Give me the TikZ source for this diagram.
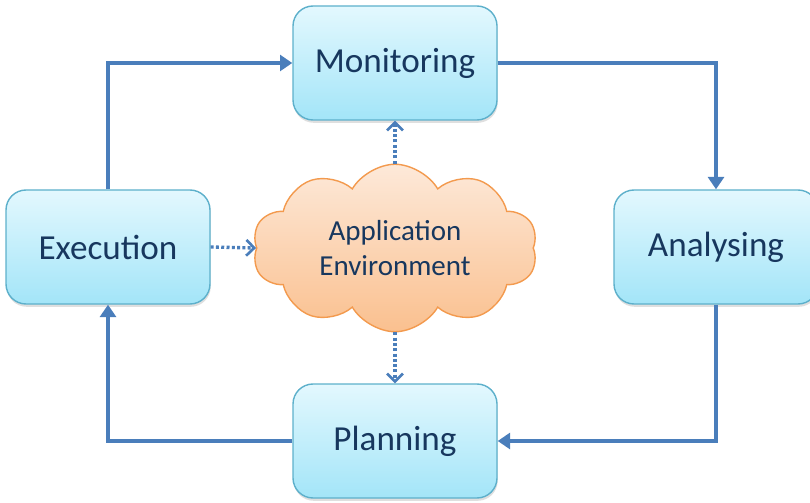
\documentclass[tikz,border=0pt]{standalone}
\usepackage{fontspec}
\setmainfont{Carlito}
\usetikzlibrary{shapes.symbols,arrows.meta,shadows}
\definecolor{flowblue}{HTML}{4A7EBB}
\definecolor{boxline}{HTML}{5DB0CB}
\definecolor{boxtop}{HTML}{E3F8FE}
\definecolor{boxbot}{HTML}{A3E5F8}
\definecolor{cloudline}{HTML}{F39A4E}
\definecolor{cloudtop}{HTML}{FDE9D9}
\definecolor{cloudbot}{HTML}{FAC08F}
\definecolor{txt}{HTML}{17375E}
\tikzset{
  phase/.style={draw=boxline, line width=0.8pt, rounded corners=0.4cm,
    top color=boxtop, bottom color=boxbot, minimum width=4.08cm,
    minimum height=2.28cm, text=txt, font=\fontsize{20}{24}\selectfont,
    drop shadow={shadow xshift=0.4pt, shadow yshift=-1.6pt, opacity=0.25}},
  env/.style={cloud, cloud puffs=10, cloud puff arc=120, aspect=1.7,
    draw=cloudline, line width=0.8pt, top color=cloudtop, bottom color=cloudbot,
    minimum width=5.7cm, minimum height=3.35cm, inner sep=0pt, text=txt,
    align=center, font=\fontsize{16.5}{20}\selectfont},
  flow/.style={draw=flowblue, line width=2pt,
    -{Triangle[length=7pt, width=9pt]}},
  touch/.style={draw=flowblue, line width=1.9pt, dash pattern=on 1.7pt off 1.3pt,
    -{Straight Barb[length=4.5pt, width=9pt, line width=1.5pt]}}
}
\begin{document}
\begin{tikzpicture}
\useasboundingbox (0,0) rectangle (16.2,10.04);
\node[phase] (mon) at (7.9,8.78) {Monitoring};
\node[phase] (exe) at (2.16,5.1) {Execution};
\node[phase] (ana) at (14.32,5.1) {Analysing};
\node[phase] (pla) at (7.9,1.22) {Planning};
\node[env] (app) at (7.9,5.08) {Application\\Environment};
\path[flow] (mon.east) -| (ana.north);
\path[flow] (ana.south) |- (pla.east);
\path[flow] (pla.west) -| (exe.south);
\path[flow] (exe.north) |- (mon.west);
\path[touch] (app.north) -- (mon.south);
\path[touch] (app.south) -- (pla.north);
\path[touch] (exe.east) -- (app.west);
\end{tikzpicture}
\end{document}
